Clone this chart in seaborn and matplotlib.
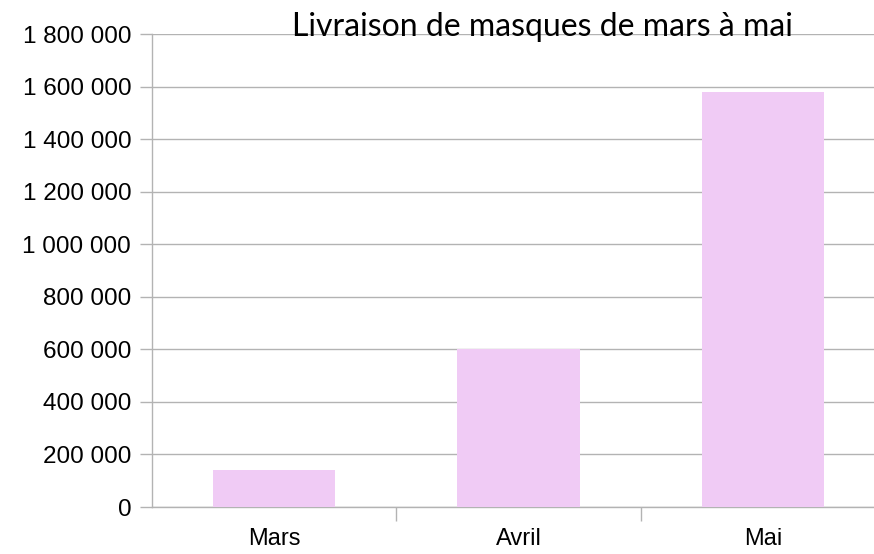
import numpy as np
import matplotlib
matplotlib.use("Agg")
import matplotlib.pyplot as plt
import matplotlib.ticker as mticker
import pandas as pd
import seaborn as sns

mois = ["Mars", "Avril", "Mai"]
livraisons = [140000, 600000, 1580000]
titre = "Livraison de masques de mars à mai"

df = pd.DataFrame({"mois": mois, "livraisons": livraisons})

sns.set_style("white")
plt.rcParams["font.family"] = ["Liberation Sans", "DejaVu Sans"]

fig = plt.figure(figsize=(8.74, 5.54), dpi=100)
ax = fig.add_axes([152 / 874, 1 - 507 / 554, (885 - 152) / 874, (507 - 34) / 554])

sns.barplot(data=df, x="mois", y="livraisons", color="#f0cbf5", width=0.5,
            saturation=1, linewidth=0, ax=ax, zorder=3)

ax.set_xlim(-0.5, 2.5)
ax.set_ylim(0, 1800000)
ax.yaxis.set_major_locator(mticker.MultipleLocator(200000))
ax.yaxis.set_major_formatter(mticker.FuncFormatter(
    lambda v, p: f"{int(v):,}".replace(",", " ")))
ax.grid(axis="y", color="#b3b3b3", linewidth=1, zorder=0)

ax.set_xticks([0.5, 1.5], minor=True)
ax.tick_params(axis="x", which="major", bottom=True, length=0, pad=15,
               labelsize=17, labelcolor="black")
ax.tick_params(axis="x", which="minor", bottom=True, length=10,
               color="#b3b3b3", width=1)
ax.tick_params(axis="y", left=True, length=9, color="#b3b3b3", width=1, pad=6,
               labelsize=17.5, labelcolor="black")
ax.set_xlabel("")
ax.set_ylabel("")

for s in ["top", "right"]:
    ax.spines[s].set_visible(False)
for s in ["left", "bottom"]:
    ax.spines[s].set_color("#b3b3b3")
    ax.spines[s].set_linewidth(1)

fig.text(542 / 874, 1 - 27 / 554, titre, ha="center", va="center",
         fontsize=23, color="black", family=["Lato", "DejaVu Sans"])

fig.savefig("out.png", dpi=100)
